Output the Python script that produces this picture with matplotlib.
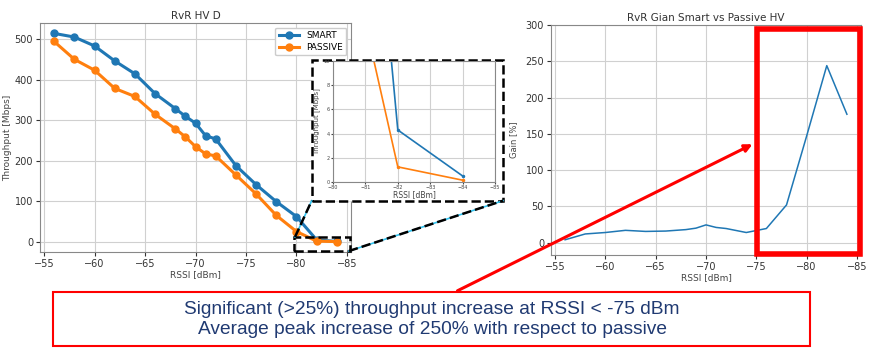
import matplotlib.pyplot as plt
from matplotlib.patches import Rectangle, FancyArrowPatch
from matplotlib.lines import Line2D

# data
rssi = [-56, -58, -60, -62, -64, -66, -68, -69, -70, -71, -72, -74, -76, -78, -80, -82, -84]
smart = [515, 506, 484, 447, 415, 366, 329, 310, 293, 262, 254, 188, 141, 99, 62, 4.3, 0.5]
passive = [495, 451, 424, 379, 359, 315, 279, 259, 235, 217, 212, 165, 118, 65, 25, 1.25, 0.15]
gain = [4, 12, 14, 17, 15.5, 16, 18, 20, 24.5, 21, 19.5, 14, 19.5, 52, 147, 244, 177]

W, H = 874, 350
fig = plt.figure(figsize=(W / 100, H / 100), dpi=100)

def px(x0, y0, x1, y1):
    # pixel box -> figure fraction [left, bottom, width, height]
    return [x0 / W, 1 - y1 / H, (x1 - x0) / W, (y1 - y0) / H]

grid_kw = dict(color='#d0d0d0', linewidth=0.8)

# left plot
ax = fig.add_axes(px(40, 23, 351, 252))
ax.plot(rssi, smart, '-o', color='#1f77b4', lw=2.2, ms=5, label='SMART')
ax.plot(rssi, passive, '-o', color='#ff7f0e', lw=2.2, ms=5, label='PASSIVE')
ax.invert_xaxis()
ax.set_xticks([-55, -60, -65, -70, -75, -80, -85])
ax.set_yticks([0, 100, 200, 300, 400, 500])
ax.grid(True, **grid_kw)
ax.set_title('RvR HV D', fontsize=7.5, color='#333333', pad=3)
ax.set_xlabel('RSSI [dBm]', fontsize=6.5, color='#444444', labelpad=1)
ax.set_ylabel('Throughput [Mbps]', fontsize=6.5, color='#444444', labelpad=2)
ax.tick_params(labelsize=7, length=3, pad=2, colors='#333333')
for s in ax.spines.values():
    s.set_color('#888888')
ax.legend(loc='upper right', fontsize=6.5, borderpad=0.4, handlelength=2.2,
          labelspacing=0.3, framealpha=1)

# zoom rectangle on the main plot
ax.add_patch(Rectangle((-79.8, -24), -5.5, 36, fill=False, ls='--', lw=1.8,
                       color='black', clip_on=False, zorder=5))

# inset frame
fig.patches.append(Rectangle((311.7 / W, 1 - 200.7 / H), (503 - 311.7) / W, (200.7 - 60) / H,
                             transform=fig.transFigure, facecolor='white', edgecolor='black',
                             ls='--', lw=1.8, zorder=3))
for (xa, ya), (xb, yb) in [((295, 237), (311.7, 200.7)), ((349, 251), (503, 200.7))]:
    fig.lines.append(Line2D([xa / W, xb / W], [1 - ya / H, 1 - yb / H], transform=fig.transFigure,
                            color='#33c4f0', lw=1.2, zorder=3.5))
    fig.lines.append(Line2D([xa / W, xb / W], [1 - ya / H, 1 - yb / H], transform=fig.transFigure,
                            color='black', lw=1.8, ls='--', zorder=3.6))

ins = fig.add_axes(px(333, 61, 495, 182), zorder=4)
ins.plot(rssi, smart, '-o', color='#1f77b4', lw=1.2, ms=1.5)
ins.plot(rssi, passive, '-o', color='#ff7f0e', lw=1.2, ms=1.5)
ins.set_xlim(-80, -85)
ins.set_ylim(0, 10)
ins.set_xticks([-80, -81, -82, -83, -84, -85])
ins.set_yticks([0, 2, 4, 6, 8, 10])
ins.grid(True, **grid_kw)
ins.tick_params(labelsize=3.5, length=1.5, pad=1, colors='#444444')
ins.set_xlabel('RSSI [dBm]', fontsize=5.5, color='#444444', labelpad=0)
ins.set_ylabel('Throughput [Mbps]', fontsize=5, color='#444444', labelpad=2.5)
for s in ins.spines.values():
    s.set_color('#888888')

# gain plot
ax2 = fig.add_axes(px(551, 25, 861, 255))
ax2.plot(rssi, gain, color='#1f77b4', lw=1.1)
ax2.invert_xaxis()
ax2.set_ylim(-17, 300)
ax2.set_xticks([-55, -60, -65, -70, -75, -80, -85])
ax2.set_yticks([0, 50, 100, 150, 200, 250, 300])
ax2.grid(True, **grid_kw)
ax2.set_title('RvR Gian Smart vs Passive HV', fontsize=7.5, color='#333333', pad=3)
ax2.set_xlabel('RSSI [dBm]', fontsize=6.5, color='#444444', labelpad=1)
ax2.set_ylabel('Gain [%]', fontsize=6, color='#444444', labelpad=5)
ax2.tick_params(labelsize=7, length=3, pad=2, colors='#333333')
for s in ax2.spines.values():
    s.set_color('#888888')

# slide annotations
fig.patches.append(Rectangle((757 / W, 1 - 254 / H), (860 - 757) / W, (254 - 29) / H,
                             transform=fig.transFigure, fill=False, edgecolor='#ff0000',
                             lw=4, zorder=6))
fig.patches.append(FancyArrowPatch((455 / W, 1 - 292 / H), (755 / W, 1 - 143 / H),
                                   transform=fig.transFigure, arrowstyle='-|>',
                                   mutation_scale=11, color='#ff0000', lw=2.2, zorder=6))
fig.patches.append(Rectangle((53 / W, 1 - 346 / H), (810 - 53) / W, (346 - 292) / H,
                             transform=fig.transFigure, facecolor='white', edgecolor='#ff0000',
                             lw=1.5, zorder=7))
fig.text(432 / W, 1 - 309 / H, 'Significant (>25%) throughput increase at RSSI < -75 dBm',
         ha='center', va='center', fontsize=13.8, color='#203a72', family='Liberation Sans', zorder=8)
fig.text(432 / W, 1 - 330 / H, 'Average peak increase of 250% with respect to passive',
         ha='center', va='center', fontsize=13.8, color='#203a72', family='Liberation Sans', zorder=8)

fig.savefig('out.png', dpi=100)
